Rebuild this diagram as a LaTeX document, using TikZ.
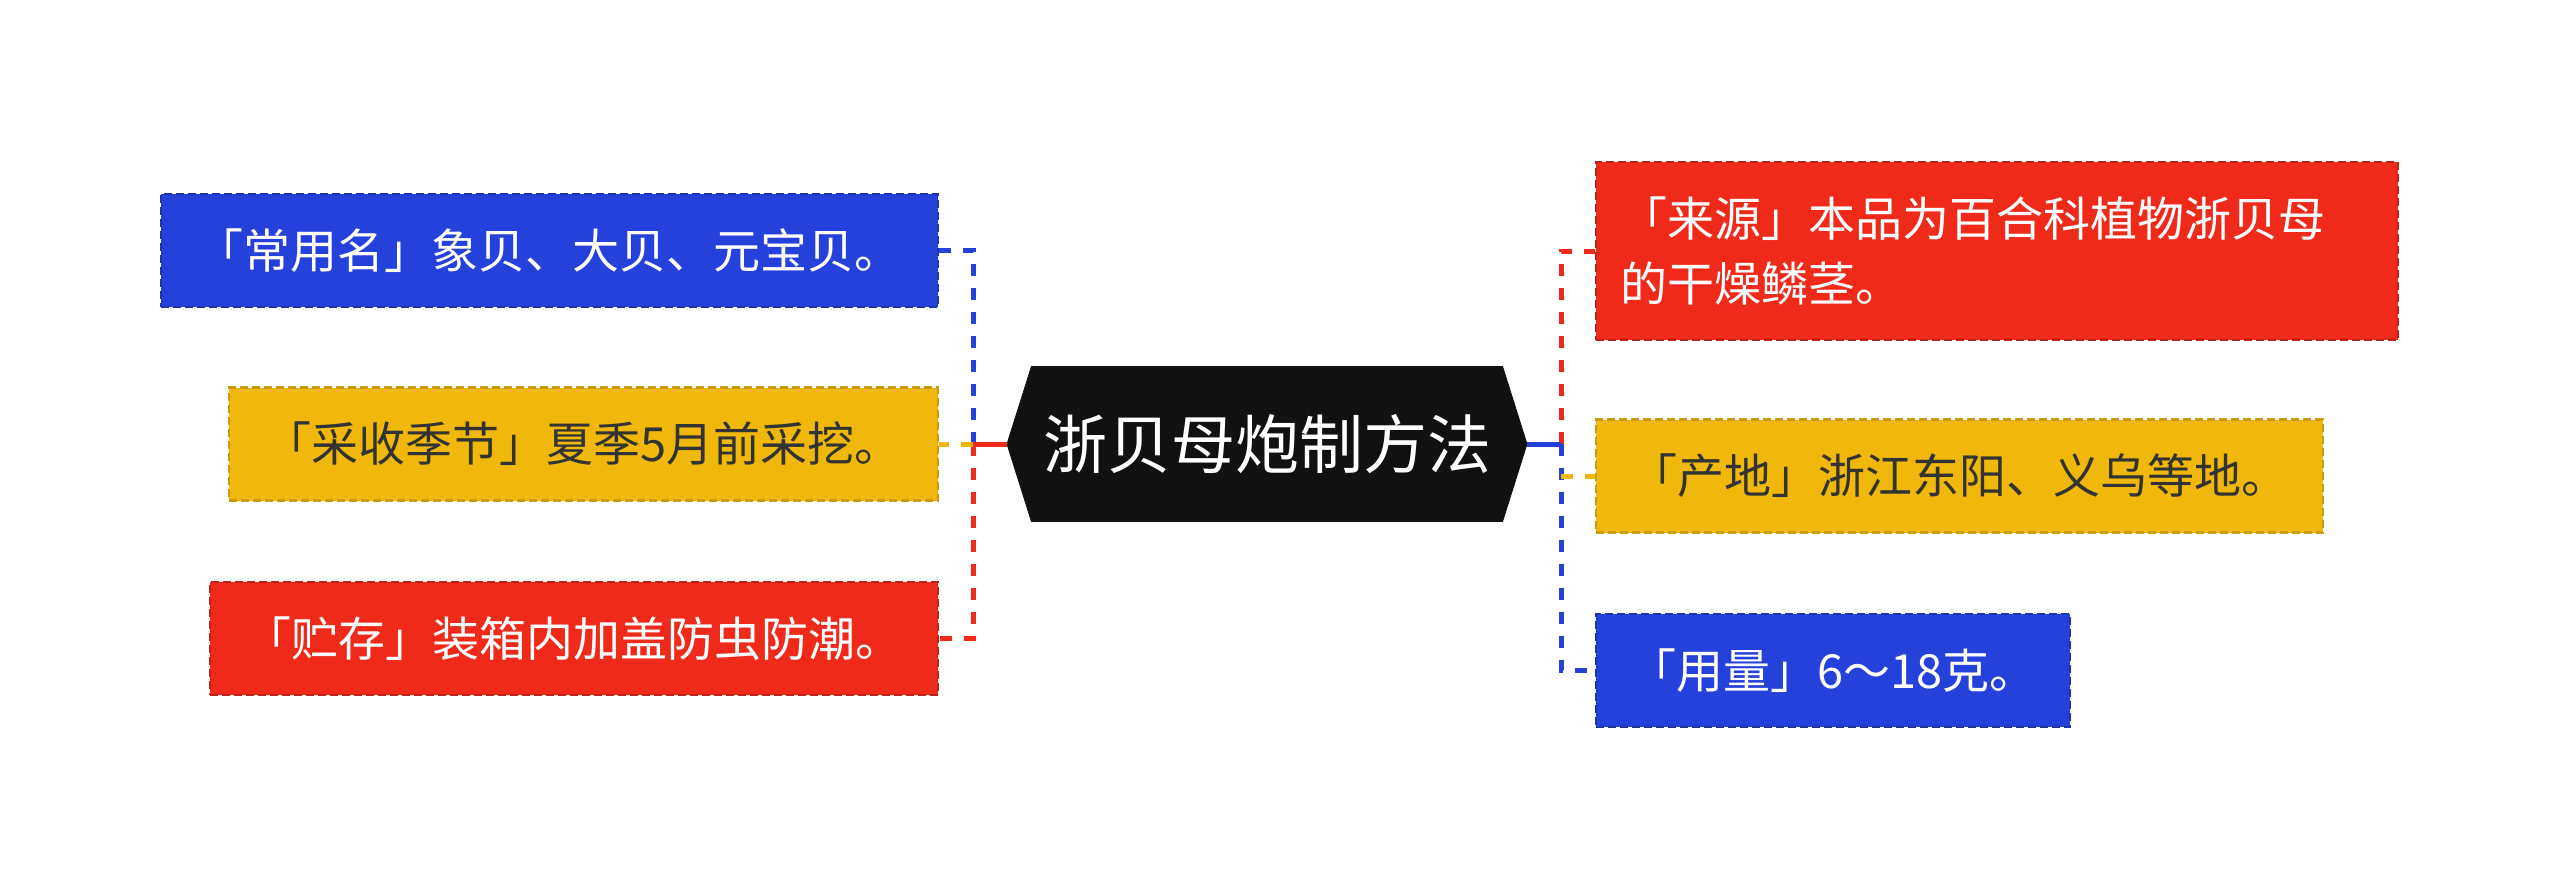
\documentclass[tikz,border=0pt]{standalone}
\usepackage{fontspec}
\usepackage{xcolor}
\usetikzlibrary{shapes.symbols}
\newfontfamily\cjk{Noto Sans CJK SC}

\definecolor{mapblue}{HTML}{2541DB}
\definecolor{mapyellow}{HTML}{F0B80A}
\definecolor{mapred}{HTML}{EF2A1A}
\definecolor{maproot}{HTML}{111111}
\definecolor{mapdark}{HTML}{333333}

\tikzset{
	leaf/.style={rectangle, inner sep=0pt, minimum height=56.5pt,
		line width=1.2pt, dash pattern=on 4pt off 2pt,
		font=\cjk\fontsize{23.5pt}{32.5pt}\selectfont},
	bluebox/.style={leaf, fill=mapblue, draw=mapblue!80!black, text=white},
	yellowbox/.style={leaf, fill=mapyellow, draw=mapyellow!85!black, text=mapdark},
	redbox/.style={leaf, fill=mapred, draw=mapred!80!black, text=white},
	link/.style={line width=2.5pt, dash pattern=on 6pt off 6pt},
	stem/.style={line width=2.5pt}
}

\begin{document}
\begin{tikzpicture}[x=0.5pt,y=-0.5pt]
	\useasboundingbox (0,0) rectangle (2560,889);

	% centre
	\node[shape=signal, signal to=west and east, signal pointer angle=145,
		fill=maproot, draw=maproot, text=white, inner sep=0pt,
		minimum width=260pt, minimum height=77.5pt,
		font=\cjk\fontsize{32pt}{38pt}\selectfont] (root) at (1267,444) {浙贝母炮制方法};

	% left side
	\node[bluebox, anchor=east, minimum width=388.5pt] (name) at (939,250.5) {「常用名」象贝、大贝、元宝贝。};
	\node[yellowbox, anchor=east, minimum width=354.5pt] (season) at (939,444) {「采收季节」夏季5月前采挖。};
	\node[redbox, anchor=east, minimum width=364pt] (store) at (939,638.5) {「贮存」装箱内加盖防虫防潮。};

	% right side
	\node[redbox, anchor=west, minimum width=401pt, minimum height=89pt,
		align=left, text width=377pt] (source) at (1595,251) {「来源」本品为百合科植物浙贝母\\的干燥鳞茎。};
	\node[yellowbox, anchor=west, minimum width=363.5pt] (place) at (1595,476) {「产地」浙江东阳、义乌等地。};
	\node[bluebox, anchor=west, minimum width=237pt] (dose) at (1595,670.5) {「用量」6～18克。};

	\coordinate (lj) at (973,444);
	\coordinate (rj) at (1561,444);

	% connectors
	\draw[link, mapblue] (lj) |- (name.east);
	\draw[link, mapred] (lj) |- (store.east);
	\draw[link, mapyellow] (lj) -- (season.east);
	\draw[stem, mapred] (root.west) -- (lj);

	\draw[link, mapred] (rj) |- (source.west);
	\draw[link, mapblue] (rj) |- (dose.west);
	\draw[link, mapyellow] (rj |- place.west) -- (place.west);
	\draw[stem, mapblue] (root.east) -- (rj);
\end{tikzpicture}
\end{document}
